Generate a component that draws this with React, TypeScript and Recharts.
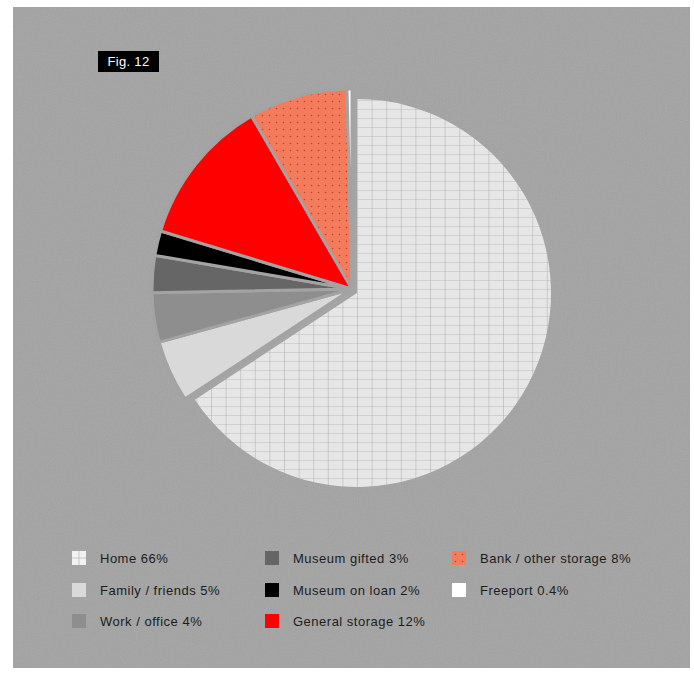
import { PieChart, Pie, Cell } from 'recharts'

const labels = ['Home', 'Family / friends', 'Work / office', 'Museum gifted', 'Museum on loan', 'General storage', 'Bank / other storage', 'Freeport']
const shares = [66, 5, 4, 3, 2, 12, 8, 0.4]
const fills = ['url(#homeGrid)', '#d9d9d9', '#8e8e8e', '#666666', '#000000', '#ff0000', 'url(#bankDots)', '#ffffff']
const swatches = ['#f2f2f2', '#d9d9d9', '#8e8e8e', '#666666', '#000000', '#ff0000', 'url(#bankDots)', '#ffffff']

const data = labels.map((name, i) => ({ name, value: shares[i] }))
const legendCols = [[0, 1, 2], [3, 4, 5], [6, 7]]
const colX = [72, 265, 452]
const rowY = [551, 583, 614]

const BG = '#a3a3a3'
// recharts adds its 5px default margin to numeric cx / cy
const M = 5

export default function App() {
  return (
    <div style={{ position: 'absolute', left: 0, top: 0, width: 694, height: 683, background: '#fff', fontFamily: 'Arial, "Liberation Sans", sans-serif' }}>
      <svg width={0} height={0} style={{ position: 'absolute' }}>
        <defs>
          <pattern id="homeGrid" patternUnits="userSpaceOnUse" x={357} y={100} width={14.6} height={9}>
            <rect width={14.6} height={9} fill="#e6e6e6" />
            <line x1={0} y1={0} x2={14.6} y2={0} stroke="#bdbdbd" strokeWidth={1} />
            <line x1={0} y1={0} x2={0} y2={9} stroke="#ababab" strokeWidth={1} />
          </pattern>
          <pattern id="bankDots" patternUnits="userSpaceOnUse" width={7} height={7}>
            <rect width={7} height={7} fill="#f47b5b" />
            <circle cx={3.5} cy={3.5} r={0.8} fill="#b8472e" />
          </pattern>
          <filter id="noise">
            <feTurbulence type="fractalNoise" baseFrequency="0.9" numOctaves={2} seed={3} />
            <feColorMatrix type="saturate" values="0" />
          </filter>
        </defs>
      </svg>

      <div style={{ position: 'absolute', left: 13, top: 7, width: 677, height: 661, background: BG, overflow: 'hidden' }}>
        <svg width={677} height={661} style={{ position: 'absolute', left: 0, top: 0, opacity: 0.12 }}>
          <rect width={677} height={661} filter="url(#noise)" />
        </svg>
      </div>

      <div style={{ position: 'absolute', left: 0, top: 0 }}>
        <PieChart width={694} height={683}>
          <Pie data={data} dataKey="value" cx={352 - M} cy={289 - M} outerRadius={200} startAngle={90} endAngle={-270}
            stroke={BG} strokeWidth={3} isAnimationActive={false}>
            {data.map((d, i) => (
              <Cell key={d.name} fill={i === 0 ? 'none' : fills[i]} stroke={i === 0 ? 'none' : BG} />
            ))}
          </Pie>
          <Pie data={data} dataKey="value" cx={357 - M} cy={293 - M} outerRadius={194} startAngle={90} endAngle={-270}
            stroke="none" isAnimationActive={false}>
            {data.map((d, i) => (
              <Cell key={d.name} fill={i === 0 ? fills[0] : 'none'} stroke="none" />
            ))}
          </Pie>
        </PieChart>
      </div>

      <div style={{ position: 'absolute', left: 98, top: 51, width: 61, height: 21, background: '#000', color: '#fff', fontSize: 13, lineHeight: '21px', textAlign: 'center', letterSpacing: 0.3 }}>
        Fig. 12
      </div>

      {legendCols.map((col, c) =>
        col.map((idx, r) => (
          <div key={labels[idx]} style={{ position: 'absolute', left: colX[c], top: rowY[r], height: 14, display: 'flex', alignItems: 'center', whiteSpace: 'nowrap' }}>
            <svg width={14} height={14} style={{ display: 'block' }}>
              <rect width={14} height={14} fill={swatches[idx]} />
              {idx === 0 && <line x1={7} y1={0} x2={7} y2={14} stroke="#c8c8c8" />}
              {idx === 0 && <line x1={0} y1={7} x2={14} y2={7} stroke="#c8c8c8" />}
            </svg>
            <span style={{ marginLeft: 14, fontSize: 13, color: '#1c1c1c', letterSpacing: 0.5 }}>
              {labels[idx]} {shares[idx]}%
            </span>
          </div>
        ))
      )}
    </div>
  )
}
